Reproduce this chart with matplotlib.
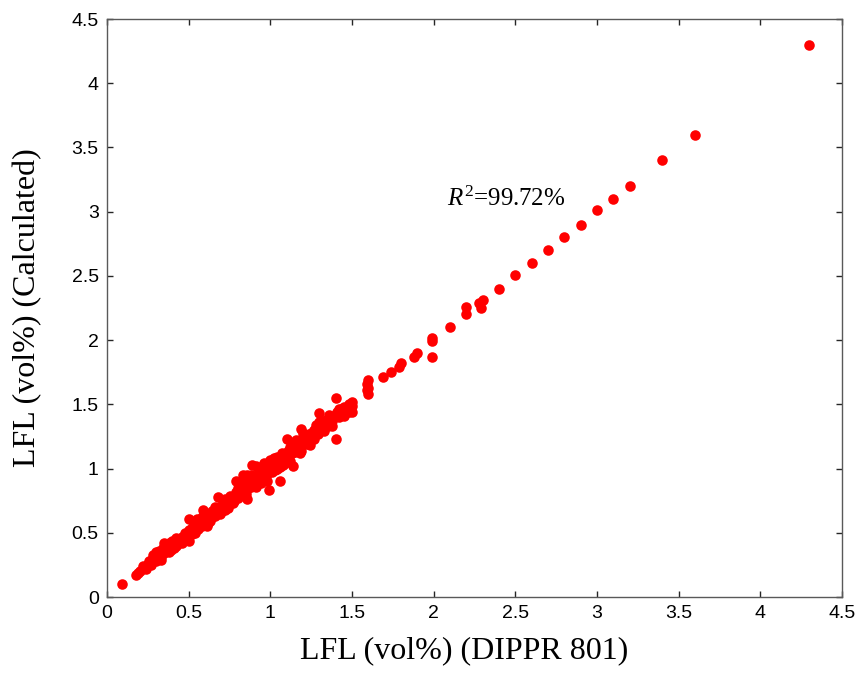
import matplotlib
matplotlib.use("Agg")
import matplotlib.pyplot as plt

# Sparse upper points
x_upper = [4.30, 3.60, 3.40, 3.20, 3.10, 3.00, 2.90, 2.80, 2.70, 2.60, 2.50, 2.40,
           2.30, 2.28, 2.29, 2.20, 2.20, 2.10, 1.99, 1.99, 1.99, 1.90, 1.88, 1.80,
           1.79, 1.74, 1.69, 1.60, 1.59, 1.59, 1.60, 1.60]
y_upper = [4.30, 3.60, 3.40, 3.20, 3.10, 3.01, 2.90, 2.80, 2.70, 2.60, 2.51, 2.40,
           2.31, 2.29, 2.25, 2.26, 2.20, 2.10, 2.02, 1.99, 1.87, 1.90, 1.87, 1.82,
           1.79, 1.75, 1.71, 1.69, 1.66, 1.61, 1.58, 1.63]

# Dense band points
x_band = [0.09, 0.18, 0.20, 0.19,
          0.22, 0.24, 0.25, 0.26, 0.27, 0.28, 0.29, 0.30, 0.30, 0.31, 0.32, 0.33,
          0.34, 0.35, 0.35, 0.36, 0.37, 0.38, 0.39, 0.40, 0.40, 0.41, 0.42, 0.43,
          0.44, 0.45, 0.46, 0.47, 0.48, 0.49, 0.50, 0.50, 0.50, 0.51, 0.52, 0.53,
          0.54, 0.55, 0.56, 0.57, 0.58, 0.59, 0.59, 0.60, 0.61, 0.62, 0.63, 0.63,
          0.64, 0.65, 0.66, 0.67, 0.68, 0.68, 0.69, 0.70, 0.71, 0.72, 0.73, 0.74,
          0.75, 0.75, 0.76, 0.77, 0.78, 0.79, 0.79, 0.80, 0.81, 0.82, 0.83, 0.83,
          0.84, 0.85, 0.86, 0.86, 0.86, 0.87, 0.88, 0.89, 0.89, 0.90, 0.90, 0.91,
          0.92, 0.93, 0.94, 0.95, 0.96, 0.97, 0.98, 0.98, 0.99, 1.00, 1.00, 1.01,
          1.02, 1.03, 1.04, 1.05, 1.06, 1.06, 1.07, 1.08, 1.09, 1.10, 1.10, 1.11,
          1.12, 1.13, 1.14, 1.14, 1.15, 1.16, 1.17, 1.18, 1.19, 1.19, 1.20, 1.21,
          1.22, 1.23, 1.24, 1.25, 1.26, 1.27, 1.28, 1.29, 1.30, 1.30, 1.31, 1.32,
          1.33, 1.34, 1.35, 1.36, 1.37, 1.38, 1.39, 1.40, 1.40, 1.41, 1.42, 1.43,
          1.44, 1.45, 1.46, 1.47, 1.48, 1.49, 1.50, 1.50, 1.50,
          # extra scatter to thicken the band
          0.28, 0.33, 0.38, 0.42, 0.46, 0.52, 0.55, 0.58, 0.62, 0.66, 0.70, 0.72,
          0.74, 0.77, 0.80, 0.82, 0.85, 0.88, 0.91, 0.93, 0.95, 0.97, 1.00, 1.02,
          1.04, 1.07, 1.09, 1.12, 1.15, 1.18, 1.21, 1.24, 1.27, 1.30, 1.33, 1.36,
          1.38, 1.42, 1.45, 1.48, 1.20, 1.11, 0.96, 0.64]
y_band = [0.10, 0.17, 0.20, 0.19,
          0.24, 0.22, 0.26, 0.28, 0.25, 0.30, 0.33, 0.28, 0.35, 0.32, 0.36, 0.31,
          0.38, 0.42, 0.34, 0.36, 0.40, 0.35, 0.37, 0.44, 0.41, 0.38, 0.40, 0.45,
          0.42, 0.44, 0.47, 0.45, 0.50, 0.46, 0.52, 0.61, 0.44, 0.48, 0.54, 0.57,
          0.50, 0.55, 0.53, 0.58, 0.55, 0.68, 0.60, 0.57, 0.55, 0.62, 0.65, 0.59,
          0.62, 0.66, 0.63, 0.69, 0.78, 0.66, 0.65, 0.71, 0.70, 0.68, 0.74, 0.72,
          0.79, 0.76, 0.73, 0.78, 0.75, 0.90, 0.82, 0.77, 0.83, 0.80, 0.86, 0.95,
          0.82, 0.88, 0.76, 0.95, 0.84, 0.90, 0.86, 1.03, 0.92, 0.88, 0.94, 1.02,
          0.91, 0.95, 0.89, 0.97, 0.93, 0.99, 0.90, 0.96, 0.83, 1.07, 1.00, 0.97,
          1.03, 0.99, 1.09, 1.04, 0.90, 1.01, 1.06, 1.03, 1.08, 1.23, 1.10, 1.14,
          1.06, 1.12, 1.02, 1.16, 1.13, 1.22, 1.15, 1.18, 1.14, 1.31, 1.20, 1.24,
          1.19, 1.25, 1.22, 1.28, 1.25, 1.30, 1.34, 1.27, 1.43, 1.32, 1.37, 1.30,
          1.35, 1.38, 1.33, 1.36, 1.40, 1.37, 1.41, 1.23, 1.55, 1.44, 1.40, 1.46,
          1.43, 1.48, 1.45, 1.47, 1.50, 1.46, 1.52, 1.49, 1.44,
          0.33, 0.29, 0.42, 0.46, 0.42, 0.49, 0.61, 0.62, 0.58, 0.70, 0.66, 0.76,
          0.69, 0.73, 0.85, 0.88, 0.80, 0.95, 0.86, 0.99, 1.01, 0.92, 1.04, 1.08,
          1.00, 1.12, 1.04, 1.17, 1.20, 1.12, 1.27, 1.18, 1.23, 1.36, 1.29, 1.42,
          1.33, 1.46, 1.41, 1.44, 1.27, 1.07, 1.04, 0.67]

x_all = x_band + x_upper
y_all = y_band + y_upper

ticks = [0, 0.5, 1, 1.5, 2, 2.5, 3, 3.5, 4, 4.5]
tick_labels = ["0", "0.5", "1", "1.5", "2", "2.5", "3", "3.5", "4", "4.5"]

plt.rcParams['mathtext.fontset'] = 'custom'
plt.rcParams['mathtext.rm'] = 'Liberation Serif'
plt.rcParams['mathtext.it'] = 'Liberation Serif:italic'

fig = plt.figure(figsize=(8.59, 6.74), dpi=100)
ax = fig.add_axes([0.1246, 0.1142, 0.8556, 0.8576])

ax.plot(x_all, y_all, linestyle='none', marker='o', markersize=7.6,
        markerfacecolor='#ff0000', markeredgecolor='#ff0000', markeredgewidth=0)

ax.set_xlim(0, 4.5)
ax.set_ylim(0, 4.5)
ax.set_xticks(ticks)
ax.set_yticks(ticks)
ax.set_xticklabels(tick_labels, family='Liberation Sans', fontsize=14)
ax.set_yticklabels(tick_labels, family='Liberation Sans', fontsize=14)
ax.tick_params(direction='in', length=4, width=1, top=True, right=True,
               color='0.15', pad=6)
for s in ax.spines.values():
    s.set_color('0.35')
    s.set_linewidth(1)

ax.set_xlabel('LFL (vol%) (DIPPR 801)', family='Liberation Serif', fontsize=23)
ax.set_ylabel('LFL (vol%) (Calculated)', family='Liberation Serif', fontsize=23)
ax.xaxis.set_label_coords(0.486, -0.068)
ax.yaxis.set_label_coords(-0.088, 0.5)

ax.text(2.08, 3.10, r'$\mathit{R}^{2}$=99.72%', family='Liberation Serif',
        fontsize=18, ha='left', va='center')

fig.savefig('out.png', dpi=100)
